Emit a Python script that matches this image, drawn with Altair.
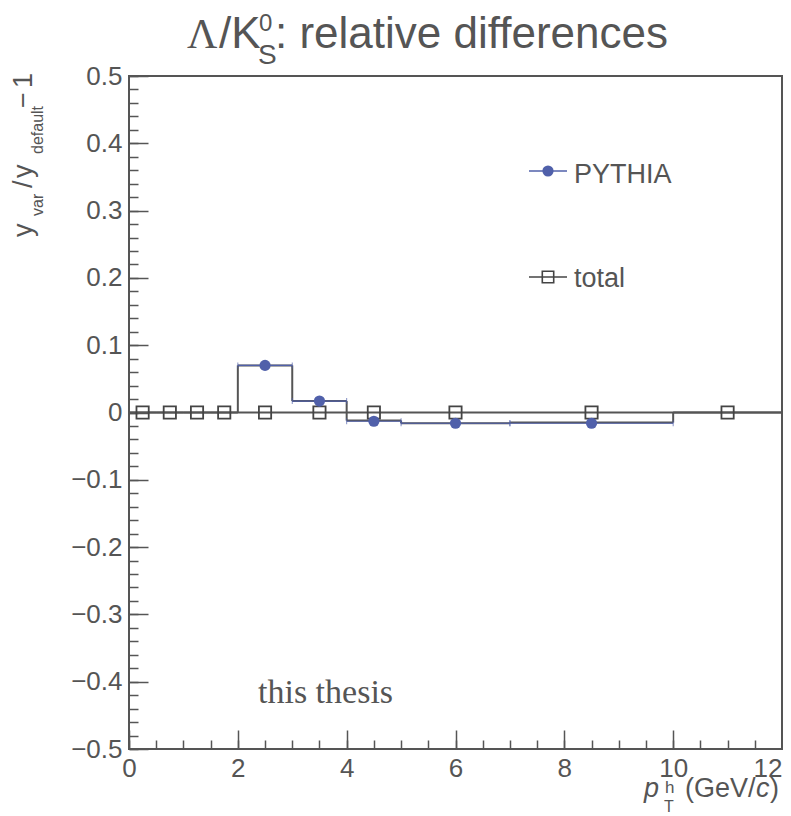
import altair as alt
import pandas as pd

# ---------------- data ----------------
bin_lo = [0.0, 0.5, 1.0, 1.5, 2.0, 3.0, 4.0, 5.0, 7.0, 10.0]
bin_hi = [0.5, 1.0, 1.5, 2.0, 3.0, 4.0, 5.0, 7.0, 10.0, 12.0]
bin_center = [0.25, 0.75, 1.25, 1.75, 2.5, 3.5, 4.5, 6.0, 8.5, 11.0]
total_marker = [0.0, 0.0, 0.0, 0.0, 0.0, 0.0, 0.0, 0.0, 0.0, 0.0]
total_step = [0.0, 0.0, 0.0, 0.0, 0.070, 0.017, -0.012, -0.016, -0.015, 0.0]

pythia_x = [2.5, 3.5, 4.5, 6.0, 8.5]
pythia_lo = [2.0, 3.0, 4.0, 5.0, 7.0]
pythia_hi = [3.0, 4.0, 5.0, 7.0, 10.0]
pythia_y = [0.070, 0.017, -0.013, -0.016, -0.016]

x_major = [0, 2, 4, 6, 8, 10, 12]
x_minor = [i * 0.5 for i in range(25)]
y_major = [-0.5, -0.4, -0.3, -0.2, -0.1, 0.0, 0.1, 0.2, 0.3, 0.4, 0.5]
y_minor = [round(-0.5 + 0.02 * i, 2) for i in range(51)]

# ---------------- style ----------------
W, H = 653, 673
GRAY = "#555555"
DARK = "#444444"
BLUE = "#5060aa"
SANS = "Liberation Sans"
SERIF = "Liberation Serif"

xs = alt.Scale(domain=[0, 12], nice=False, zero=False)
ys = alt.Scale(domain=[-0.5, 0.5], nice=False, zero=False)

x_lab_axis = alt.Axis(orient="bottom", values=x_major, format="d", labelFontSize=26,
                      labelFont=SANS, labelColor=GRAY, labelPadding=6, ticks=False,
                      labelAlign={"condition": {"test": "datum.value == 12", "value": "right"},
                                  "value": "center"},
                      domain=False, grid=False, title=None, labelFlush=False,
                      labelOverlap=False)
y_lab_axis = alt.Axis(orient="left", values=y_major,
                      labelExpr="datum.value == 0 ? '0' : format(datum.value, '.1f')",
                      labelFontSize=26, labelFont=SANS, labelColor=GRAY, labelPadding=7,
                      ticks=False, domain=False, grid=False, title=None,
                      labelFlush=False, labelOverlap=False)
x_maj_axis = alt.Axis(orient="top", offset=-H, values=x_major, labels=False, tickSize=19,
                      tickColor=GRAY, tickWidth=1.5, domain=False, grid=False, title=None)
y_maj_axis = alt.Axis(orient="right", offset=-W, values=y_major, labels=False, tickSize=19,
                      tickColor=GRAY, tickWidth=1.5, domain=False, grid=False, title=None)
x_min_axis = alt.Axis(orient="top", offset=-H, values=x_minor, labels=False, tickSize=9,
                      tickColor=GRAY, tickWidth=1.5, domain=False, grid=False, title=None)
y_min_axis = alt.Axis(orient="right", offset=-W, values=y_minor, labels=False, tickSize=9,
                      tickColor=GRAY, tickWidth=1.5, domain=False, grid=False, title=None)

# ---------------- tables ----------------
df_bins = pd.DataFrame({"lo": bin_lo, "hi": bin_hi, "c": bin_center,
                        "m": total_marker, "s": total_step})
df_edges = pd.DataFrame({"x": bin_hi[:-1], "y": total_step[:-1], "y2": total_step[1:]})
df_zero = pd.DataFrame({"x": [bin_lo[0]], "x2": [bin_hi[-1]], "y": [total_marker[0]]})
df_py = pd.DataFrame({"x": pythia_x, "lo": pythia_lo, "hi": pythia_hi, "y": pythia_y})
df_one = pd.DataFrame({"a": [0]})

zero_line = alt.Chart(df_zero).mark_rule(color=GRAY, strokeWidth=2).encode(
    x=alt.X("x:Q", scale=xs, axis=x_lab_axis),
    x2="x2:Q",
    y=alt.Y("y:Q", scale=ys, axis=y_lab_axis),
)

step_h = alt.Chart(df_bins).mark_rule(color=GRAY, strokeWidth=2).encode(
    x=alt.X("lo:Q", scale=xs, axis=x_min_axis),
    x2="hi:Q",
    y=alt.Y("s:Q", scale=ys, axis=y_min_axis),
)
step_v = alt.Chart(df_edges).mark_rule(color=GRAY, strokeWidth=2).encode(
    x=alt.X("x:Q", scale=xs, axis=None),
    y=alt.Y("y:Q", scale=ys, axis=None),
    y2="y2:Q",
)

py_err = alt.Chart(df_py).mark_rule(color=BLUE, strokeWidth=1.2).encode(
    x=alt.X("lo:Q", scale=xs, axis=None),
    x2="hi:Q",
    y=alt.Y("y:Q", scale=ys, axis=None),
)
py_cap_lo = alt.Chart(df_py).mark_tick(color=BLUE, orient="vertical", size=6, thickness=1).encode(
    x=alt.X("lo:Q", scale=xs, axis=None),
    y=alt.Y("y:Q", scale=ys, axis=None),
)
py_cap_hi = alt.Chart(df_py).mark_tick(color=BLUE, orient="vertical", size=6, thickness=1).encode(
    x=alt.X("hi:Q", scale=xs, axis=None),
    y=alt.Y("y:Q", scale=ys, axis=None),
)

squares = alt.Chart(df_bins).mark_point(shape="square", filled=False, size=150,
                                        strokeWidth=1.8, color=DARK, opacity=1).encode(
    x=alt.X("c:Q", scale=xs, axis=x_maj_axis),
    y=alt.Y("m:Q", scale=ys, axis=y_maj_axis),
)

py_pts = alt.Chart(df_py).mark_point(shape="circle", filled=True, size=125,
                                     color=BLUE, opacity=1).encode(
    x=alt.X("x:Q", scale=xs, axis=None),
    y=alt.Y("y:Q", scale=ys, axis=None),
)


def txt(s, x, y, size, font=SANS, style="normal", angle=0, color=GRAY):
    return alt.Chart(df_one).mark_text(
        text=s, font=font, fontSize=size, fontStyle=style, angle=angle,
        align="left", baseline="alphabetic", color=color,
    ).encode(x=alt.value(x), y=alt.value(y))


# plot origin is at page (129, 76)
texts = [
    # title
    txt("\u039b", 58, -28, 42, font=SERIF),
    txt("/K", 90, -28, 44),
    txt("0", 130, -45, 24),
    txt("S", 129, -12, 28),
    txt(": relative differences", 146, -28, 44),
    # y title (rotated)
    txt("y", -97, 161, 27, angle=270),
    txt("var", -86, 140, 16, angle=270),
    txt("/", -97, 112, 27, angle=270),
    txt("y", -97, 102, 27, angle=270),
    txt("default", -86, 78, 16, angle=270),
    txt("\u2212", -97, 32, 27, angle=270),
    txt("1", -97, 12, 27, angle=270),
    # x title
    txt("p", 515, 721, 27, style="italic"),
    txt("h", 536, 717, 17),
    txt("T", 535, 736, 16),
    txt("(GeV/", 556, 721, 27),
    txt("c", 627, 721, 27, style="italic"),
    txt(")", 641, 721, 27),
    # watermark
    txt("this thesis", 129, 627, 34, font=SERIF),
    # legend texts
    txt("PYTHIA", 445, 107, 27),
    txt("total", 445, 211, 27),
]

leg_py_line = alt.Chart(df_one).mark_rule(color=BLUE, strokeWidth=1.5).encode(
    x=alt.value(400), x2=alt.value(438), y=alt.value(95))
leg_py_pt = alt.Chart(df_one).mark_point(shape="circle", filled=True, size=125,
                                         color=BLUE, opacity=1).encode(
    x=alt.value(419), y=alt.value(95))
leg_tot_line = alt.Chart(df_one).mark_rule(color=DARK, strokeWidth=1.5).encode(
    x=alt.value(400), x2=alt.value(438), y=alt.value(201))
leg_tot_sq = alt.Chart(df_one).mark_point(shape="square", filled=False, size=130,
                                          strokeWidth=1.6, color=DARK, opacity=1).encode(
    x=alt.value(419), y=alt.value(201))

chart = alt.layer(
    zero_line, step_h, step_v, py_err, py_cap_lo, py_cap_hi, squares, py_pts,
    leg_py_line, leg_py_pt, leg_tot_line, leg_tot_sq, *texts,
).resolve_axis(
    x="independent", y="independent"
).properties(
    width=W, height=H,
    autosize=alt.AutoSizeParams(type="none"),
    padding={"left": 121, "top": 68, "right": 1, "bottom": 67},
    background="white",
).configure_view(
    stroke=GRAY, strokeWidth=2
)

chart.save("out.html", embed_options={"renderer": "svg", "actions": False})
